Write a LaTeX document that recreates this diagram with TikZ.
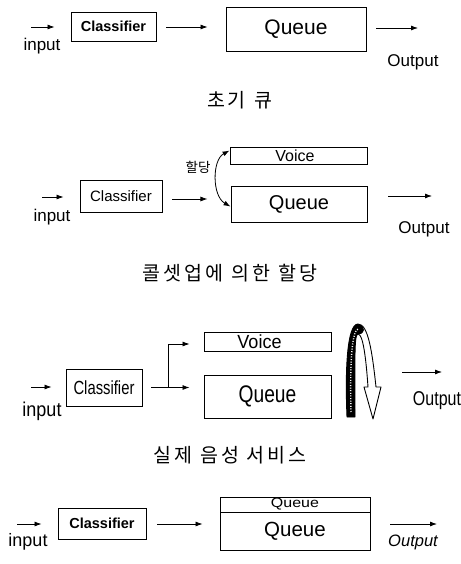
\documentclass[tikz,border=0pt]{standalone}
\usepackage{fontspec}
\setmainfont{Liberation Sans}
\newfontfamily\kr{Noto Sans CJK KR}
\newfontfamily\krcap[LetterSpace=15]{Noto Sans CJK KR}
\usetikzlibrary{arrows.meta}
\newcommand{\myfs}[1]{\fontsize{#1}{#1}\selectfont}
\begin{document}
\begin{tikzpicture}[x=1pt,y=-1pt,
  box/.style={draw, line width=0.9pt, inner sep=0pt},
  arr/.style={-{Latex[length=7pt,width=5pt]}, line width=0.8pt},
  dbl/.style={{Latex[length=7pt,width=5pt]}-{Latex[length=7pt,width=5pt]}, line width=0.8pt},
  lbl/.style={inner sep=0pt}]
\useasboundingbox[fill=white] (0,0) rectangle (460,564);

% ---------- section 1 ----------
\node[box, minimum width=85pt, minimum height=29pt] (c1) at (113.5,26.5) {\myfs{14.5}\bfseries Classifier};
\node[box, minimum width=140pt, minimum height=44pt] (q1) at (296,29) {\myfs{21}Queue};
\coordinate (i1) at (31,27);
\coordinate (o1) at (418,28);
\draw[arr] (i1) -- ([xshift=-16pt]c1.west |- i1);
\draw[arr, shorten <=10pt, shorten >=18pt] (c1.east |- i1) -- (q1.west |- i1);
\draw[arr, shorten <=10pt] (q1.east |- o1) -- (o1);
\node[lbl] (in1) at (42,46) {\myfs{17}input};
\node[lbl] (out1) at (413,62) {\myfs{17}Output};
\node[lbl] (cap1) at (240,100) {\krcap\myfs{19.5}초기\hspace{9pt}큐};

% ---------- section 2 ----------
\node[box, minimum width=82pt, minimum height=32pt] (c2) at (121,196) {\myfs{15}Classifier};
\node[box, minimum width=137pt, minimum height=17pt] (v2) at (298.5,155.5) {\hspace*{-7pt}\myfs{16}Voice};
\node[box, minimum width=136pt, minimum height=36pt] (q2) at (299,204) {\myfs{20}Queue};
\coordinate (i2) at (42,197);
\coordinate (o2) at (432,196);
\draw[arr] (i2) -- ([xshift=-16pt]c2.west |- i2);
\draw[arr, shorten <=10pt] ([yshift=-3pt]c2.east) -- ++(45,0) coordinate (m2);
\draw[dbl] ([yshift=-4pt]v2.north west) .. controls (212,160) and (212,196) .. ([yshift=-21pt]q2.north west);
\node[lbl] (al2) at (198,167) {\kr\myfs{13.5}할당};
\draw[arr, shorten <=21pt] (q2.east |- o2) -- (o2);
\node[lbl] (in2) at (52,217) {\myfs{17}input};
\node[lbl] (out2) at (424,229) {\myfs{17}Output};
\node[lbl] (cap2) at (230,273) {\krcap\myfs{19.5}콜셋업에\hspace{8pt}의한\hspace{8pt}할당};

% ---------- section 3 ----------
\node[box, minimum width=76pt, minimum height=37pt] (c3) at (104,387.5) {\scalebox{0.78}[1]{\myfs{19}Classifier}};
\node[box, minimum width=127pt, minimum height=19pt] (v3) at (267.5,341.5) {\hspace*{-16pt}\scalebox{0.95}[1]{\myfs{19}Voice}};
\node[box, minimum width=127pt, minimum height=43pt] (q3) at (267.5,396.5) {\scalebox{0.8}[1]{\myfs{24}Queue}};
\coordinate (i3) at (31,387);
\coordinate (j3) at (168,387.5);
\coordinate (o3) at (442,372);
\draw[arr] (i3) -- ([xshift=-14pt]c3.west |- i3);
\draw[line width=0.8pt, shorten <=9pt] (c3.east) -- (j3);
\draw[arr, shorten >=14pt] (j3) -- (q3.west |- j3);
\draw[arr, shorten >=14pt] (j3) |- ([yshift=-2.5pt]v3.west);
\draw[arr] ([xshift=71pt]q3.east |- o3) -- (o3);
\node[lbl] (in3) at (42,411) {\scalebox{0.9}[1]{\myfs{20}input}};
\node[lbl] (out3) at (437,401) {\scalebox{0.8}[1]{\myfs{20}Output}};
% hollow curved arrow
\filldraw[fill=white, line width=0.9pt, line join=round]
  (347,417) .. controls (345,370) and (347,324) .. (358,324)
  .. controls (368,324) and (372,350) .. (376,387)
  -- (381,387) -- (373,419) -- (364,387) -- (368,387)
  .. controls (366,358) and (363,334) .. (358,334)
  .. controls (354,334) and (355,360) .. (355,417) -- cycle;
\fill[black] (347,417) .. controls (345,370) and (347,324) .. (358,324)
  .. controls (361,324) and (363,326) .. (364,330)
  .. controls (362,335) and (360,334) .. (358,334)
  .. controls (354,334) and (355,360) .. (355,417) -- cycle;
\draw[white, line width=1.4pt, dash pattern=on 1pt off 1.6pt]
  (351,412) .. controls (350,370) and (351,332) .. (358,329);
\node[lbl] (cap3) at (230,455) {\krcap\myfs{19.5}실제\hspace{8pt}음성\hspace{8pt}서비스};

% ---------- section 4 ----------
\node[box, minimum width=88pt, minimum height=31pt] (c4) at (102,523.5) {\myfs{14.5}\bfseries Classifier};
\node[box, minimum width=150pt, minimum height=15pt] (q4t) at (295,504.5) {\raisebox{-1pt}{\scalebox{1}[0.85]{\myfs{16}Queue}}};
\node[box, minimum width=150pt, minimum height=38pt] (q4b) at (295,531) {\myfs{20.5}Queue};
\coordinate (i4) at (17,524);
\coordinate (o4) at (437,524);
\draw[arr] (i4) -- ([xshift=-16pt]c4.west |- i4);
\draw[arr, shorten <=11pt, shorten >=17pt] (c4.east |- i4) -- (q4b.west |- i4);
\draw[arr, shorten <=20pt] (q4b.east |- o4) -- (o4);
\node[lbl] (in4) at (28,542) {\myfs{18}input};
\node[lbl] (out4) at (413,542) {\myfs{16.5}\itshape Output};
\end{tikzpicture}
\end{document}
